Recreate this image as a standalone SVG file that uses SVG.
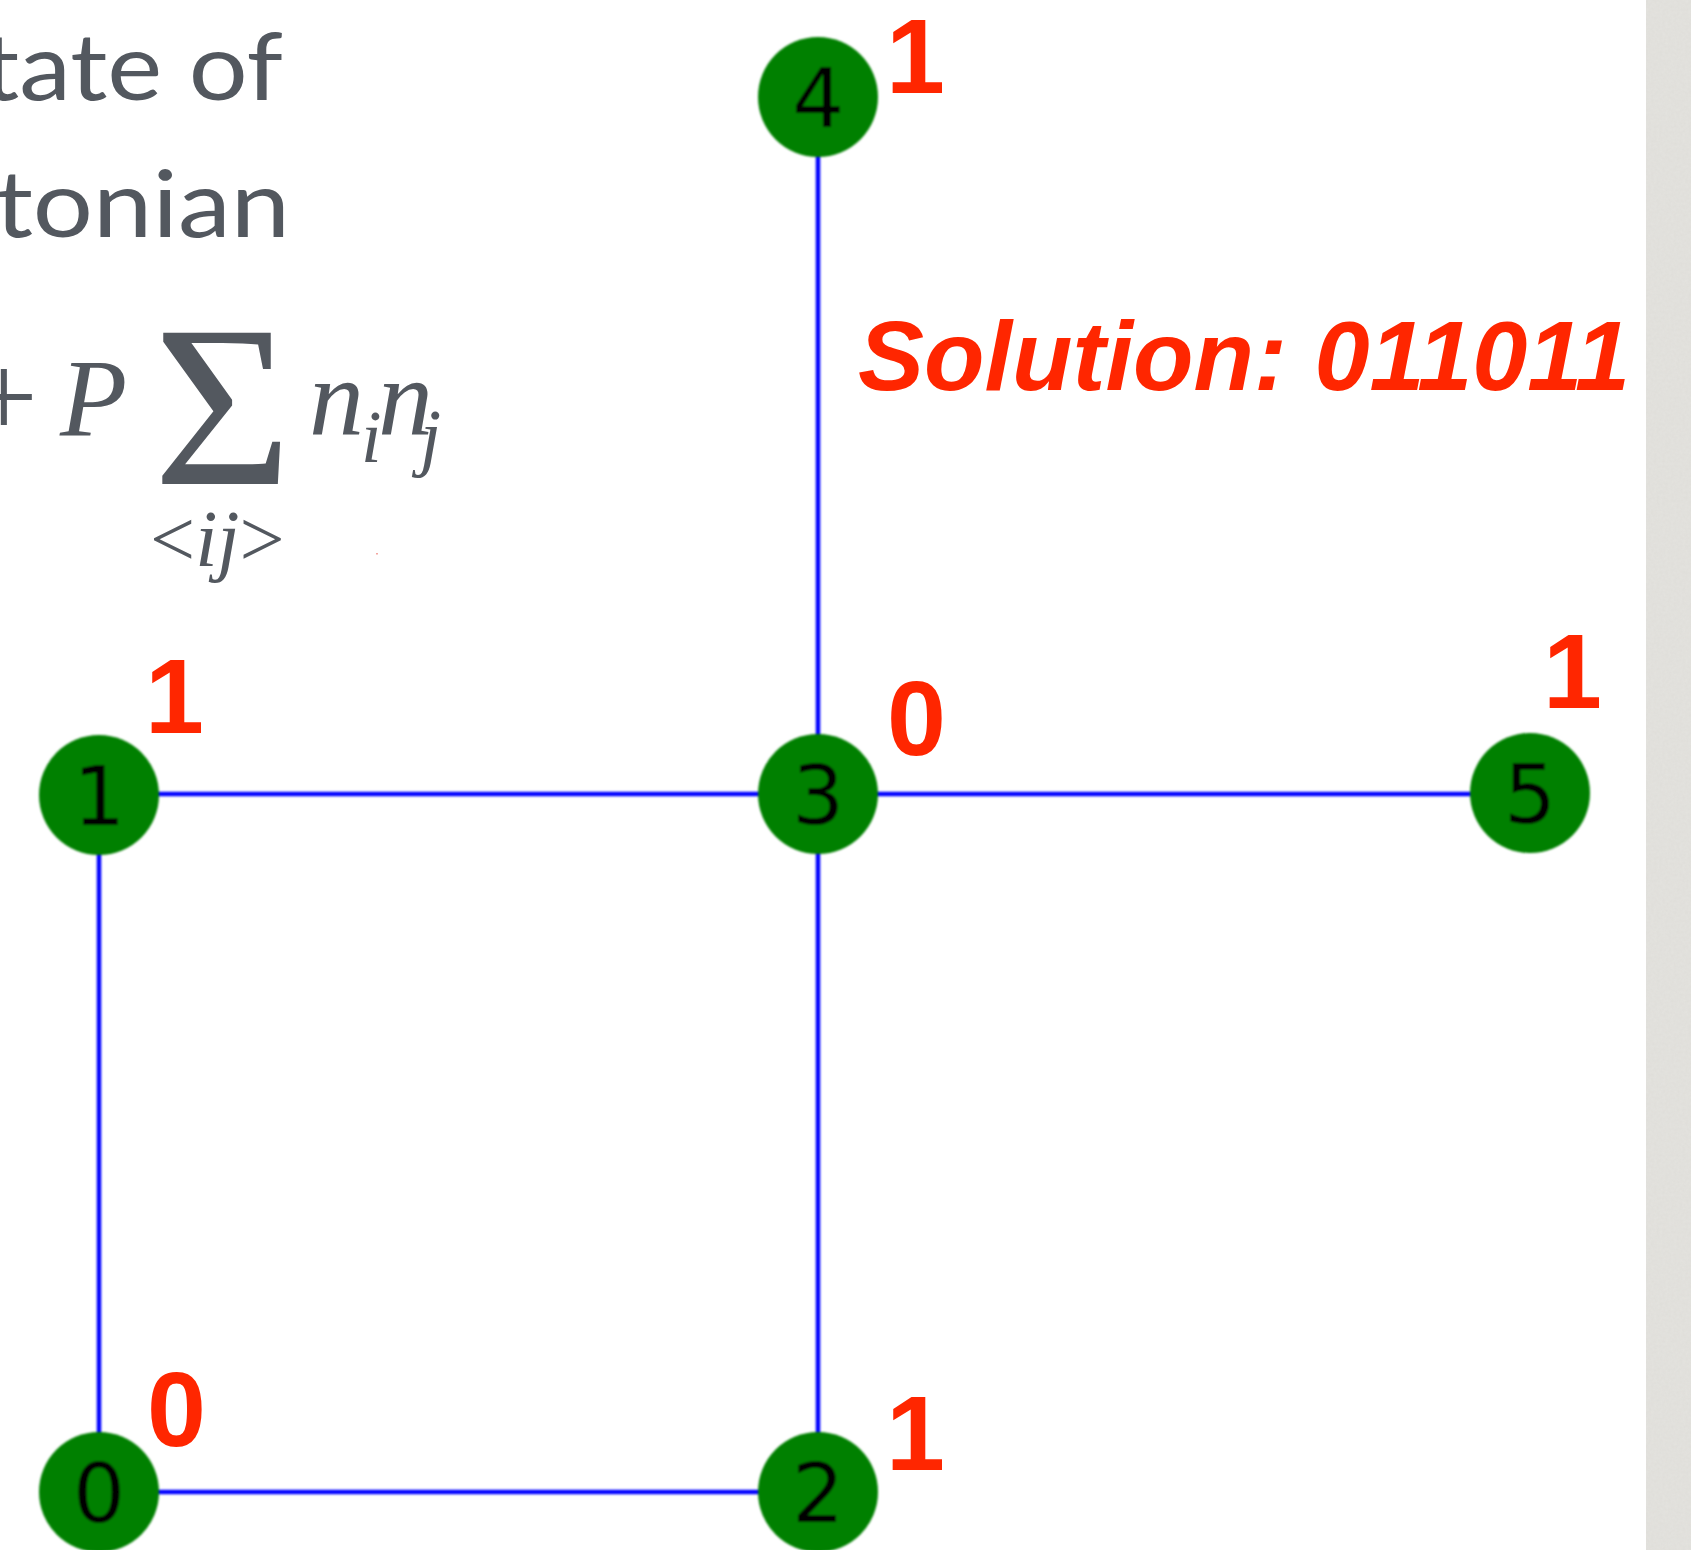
<svg xmlns="http://www.w3.org/2000/svg" width="1691" height="1550" viewBox="0 0 1691 1550">
  <defs>
    <style>
      .title { font-family: Lato, "Open Sans", "Liberation Sans", sans-serif; font-size: 93px; fill: #53585f; }
      .math { font-family: "Liberation Serif", "DejaVu Serif", serif; fill: #53585f; }
      .mi { font-style: italic; }
      .edge { stroke: #0000ff; stroke-width: 4.5; fill: none; }
      .node circle { fill: #008000; }
      .node text { font-family: "DejaVu Sans", sans-serif; font-size: 82px; fill: #000000; text-anchor: middle; }
      .bit { font-family: "Liberation Sans", Arial, sans-serif; font-weight: bold; font-size: 106px; fill: #ff2600; }
      .sol { font-family: "Liberation Sans", Arial, sans-serif; font-weight: bold; font-style: italic; font-size: 99px; fill: #ff2600; }
    </style>
    <filter id="soft" x="-10%" y="-10%" width="120%" height="120%">
      <feGaussianBlur stdDeviation="1"/>
    </filter>
    <filter id="grain" x="0" y="0" width="100%" height="100%">
      <feTurbulence type="fractalNoise" baseFrequency="0.35" numOctaves="2" seed="4"/>
      <feColorMatrix type="matrix" values="0 0 0 0 0.55  0 0 0 0 0.54  0 0 0 0 0.5  0 0 0 0.35 0"/>
    </filter>
  </defs>
  <rect x="0" y="0" width="1691" height="1550" fill="#ffffff"/>
  <g id="side-bar">
    <rect x="1646" y="0" width="45" height="1550" fill="#e4e3df"/>
    <rect x="1646" y="0" width="45" height="1550" filter="url(#grain)" opacity="0.5"/>
  </g>

  <g id="formula-text">
    <text class="title" x="-18" y="100" textLength="301" lengthAdjust="spacingAndGlyphs">tate of</text>
    <text class="title" x="-5" y="237" textLength="295" lengthAdjust="spacingAndGlyphs">tonian</text>
    <text class="math" x="-30" y="437" font-size="120">+</text>
    <text class="math mi" x="60" y="435" font-size="110">P</text>
    <text class="math" transform="translate(153,484) scale(1.03,1)" font-size="232">Σ</text>
    <text class="math mi" x="309" y="435" font-size="110">n</text>
    <text class="math mi" x="361" y="462" font-size="74">i</text>
    <text class="math mi" x="378" y="435" font-size="110">n</text>
    <text class="math mi" x="420" y="462" font-size="76">j</text>
    <text class="math" x="150" y="566" font-size="80">&lt;<tspan class="mi">ij</tspan>&gt;</text>
    <rect x="376" y="553" width="2" height="1.5" fill="#f4a6a0"/>
  </g>

  <g id="connectors" filter="url(#soft)">
    <line class="edge" x1="99" y1="794" x2="818" y2="794"/>
    <line class="edge" x1="818" y1="794" x2="1530" y2="794"/>
    <line class="edge" x1="818" y1="97" x2="818" y2="794"/>
    <line class="edge" x1="818" y1="794" x2="818" y2="1492"/>
    <line class="edge" x1="99" y1="794" x2="99" y2="1492"/>
    <line class="edge" x1="99" y1="1492" x2="818" y2="1492"/>
  </g>

  <g id="node-4" class="node" filter="url(#soft)">
    <circle cx="818" cy="97" r="60"/>
    <text x="818" y="127">4</text>
  </g>
  <g id="node-1" class="node" filter="url(#soft)">
    <circle cx="99" cy="795" r="60"/>
    <text x="99" y="825">1</text>
  </g>
  <g id="node-3" class="node" filter="url(#soft)">
    <circle cx="818" cy="794" r="60"/>
    <text x="818" y="824">3</text>
  </g>
  <g id="node-5" class="node" filter="url(#soft)">
    <circle cx="1530" cy="793" r="60"/>
    <text x="1530" y="823">5</text>
  </g>
  <g id="node-0" class="node" filter="url(#soft)">
    <circle cx="99" cy="1492" r="60"/>
    <text x="99" y="1522">0</text>
  </g>
  <g id="node-2" class="node" filter="url(#soft)">
    <circle cx="818" cy="1492" r="60"/>
    <text x="818" y="1522">2</text>
  </g>

  <g id="bit-labels">
    <text class="bit" x="886" y="93">1</text>
    <text class="bit" x="887" y="755">0</text>
    <text class="bit" x="1543" y="708">1</text>
    <text class="bit" x="145" y="733">1</text>
    <text class="bit" x="147" y="1446">0</text>
    <text class="bit" x="886" y="1470">1</text>
  </g>

  <g id="solution">
    <text class="sol" x="858" y="390">Solution: 011011</text>
  </g>
</svg>
